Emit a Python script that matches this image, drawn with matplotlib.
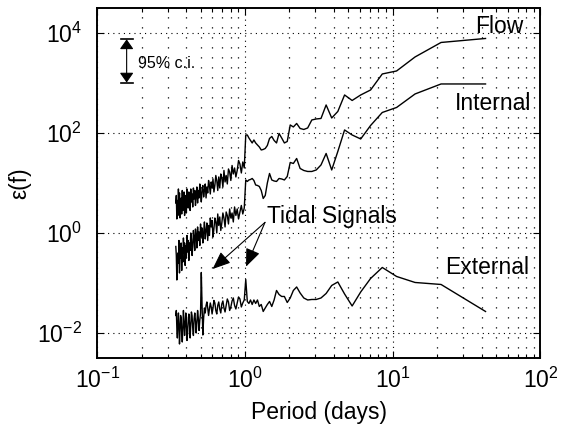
import numpy as np
import matplotlib
matplotlib.use("Agg")
import matplotlib.pyplot as plt
from matplotlib.ticker import FixedLocator, LogLocator, FuncFormatter, NullLocator, NullFormatter

plt.rcParams['font.family'] = ['Liberation Sans', 'DejaVu Sans']
plt.rcParams['mathtext.fontset'] = 'custom'
plt.rcParams['mathtext.rm'] = 'Liberation Sans'
plt.rcParams['mathtext.it'] = 'Liberation Sans:italic'
plt.rcParams['mathtext.bf'] = 'Liberation Sans:bold'
plt.rcParams['lines.scale_dashes'] = False

# ---- data: spectral harmonics of a ~42.5 day record ----
record_days = 42.5
harmonic = np.arange(1, 126)
period = record_days / harmonic

# log10 of epsilon(f) (k = 1 .. 125)
flow_log = [
    3.89, 3.81, 3.52, 3.24, 3.18, 2.86, 2.76, 2.65, 2.76, 2.43,
    2.30, 2.56, 2.29, 2.28, 2.26, 2.10, 2.07, 2.09, 2.19, 2.12,
    2.16, 1.83, 1.80, 1.90, 1.99, 1.80, 1.85, 1.93, 1.89, 1.75,
    1.69, 1.67, 1.66, 1.72, 1.76, 1.80, 1.86, 1.80, 1.85, 1.90,
    1.96, 1.96,
    1.30, 1.42, 1.20, 1.38, 1.45, 1.25, 1.12, 1.30, 1.18, 1.35,
    1.05, 1.22, 1.28, 0.98, 1.15, 1.02, 1.25, 0.92, 1.10, 1.18,
    0.90, 1.12, 0.85, 1.05, 1.15, 0.95, 0.82, 1.08, 0.90, 1.02,
    0.78, 0.95, 1.05, 0.80, 0.92, 0.70, 0.98, 0.85, 0.72, 0.95,
    0.88, 0.62, 0.80, 0.98, 0.70, 0.85, 0.60, 0.92, 0.75, 0.55,
    0.85, 0.68, 0.90, 0.52, 0.78, 0.62, 0.88, 0.45, 0.72, 0.82,
    0.50, 0.68, 0.88, 0.40, 0.75, 0.58, 0.35, 0.82, 0.62, 0.45,
    0.85, 0.38, 0.70, 0.55, 0.30, 0.80, 0.48, 0.88, 0.35, 0.65,
    0.28, 0.75, 0.60,
]
internal_log = [
    2.98, 2.98, 2.78, 2.51, 2.41, 2.15, 1.88, 1.96, 2.06, 1.63,
    1.26, 1.59, 1.36, 1.26, 1.23, 1.23, 1.25, 1.29, 1.49, 1.39,
    1.41, 1.13, 1.06, 1.08, 1.09, 1.03, 1.04, 1.06, 1.19, 1.00,
    0.75, 0.69, 0.85, 0.93, 0.95, 0.96, 1.05, 1.09, 1.07, 1.06,
    1.03, 1.06,
    0.50, 0.38, 0.55, 0.42, 0.28, 0.48, 0.35, 0.52, 0.22, 0.40,
    0.30, 0.48, 0.18, 0.35, 0.42, 0.12, 0.30, 0.40, 0.20, 0.05,
    0.32, 0.15, 0.38, 0.00, 0.22, 0.30, 0.08, -0.08, 0.25, 0.12,
    0.30, -0.05, 0.15, -0.15, 0.20, 0.05, -0.12, 0.22, 0.00, -0.20,
    0.10, -0.08, 0.18, -0.25, 0.02, -0.15, 0.12, -0.30, -0.05, 0.08,
    -0.35, -0.10, 0.05, -0.28, -0.45, -0.12, 0.00, -0.35, -0.20, -0.55,
    -0.15, -0.38, -0.05, -0.50, -0.25, -0.65, -0.20, -0.40, -0.10, -0.58,
    -0.30, -0.75, -0.20, -0.50, -0.35, -0.80, -0.15, -0.60, -0.40, -0.70,
    -0.94, -0.45, -0.27,
]
external_log = [
    -1.57, -1.03, -0.99, -0.87, -0.69, -0.91, -1.18, -1.46, -1.22, -0.98,
    -1.05, -1.21, -1.30, -1.33, -1.33, -1.34, -1.30, -1.20, -1.08, -1.15,
    -1.30, -1.39, -1.27, -1.27, -1.23, -1.15, -1.34, -1.47, -1.37, -1.43,
    -1.50, -1.57, -1.43, -1.47, -1.34, -1.41, -1.34, -1.43, -1.34, -1.41,
    -1.37, -0.93,
    -1.34, -1.40, -1.48, -1.32, -1.28, -1.40, -1.52, -1.45, -1.30, -1.36,
    -1.48, -1.55, -1.38, -1.32, -1.45, -1.58, -1.50, -1.36, -1.42, -1.60,
    -1.52, -1.38, -1.45, -1.62, -1.55, -1.40, -1.35, -1.50, -1.62, -1.48,
    -1.40, -1.52, -1.65, -1.50, -1.38, -1.45, -1.60, -1.50, -1.70, -2.04,
    -1.45, -0.79,
    -1.60, -1.75, -1.95, -1.70, -1.55, -1.80, -2.00, -1.75,
    -1.60, -1.72, -2.05, -1.90, -1.65, -1.58, -1.85, -2.10, -1.80, -1.62,
    -1.75, -2.00, -2.15, -1.80, -1.60, -1.85, -2.05, -1.78, -1.55, -1.90,
    -2.18, -2.00, -1.70, -1.65, -1.95, -2.22, -1.85, -1.60, -1.80, -2.10,
    -1.90, -1.55, -1.65,
]

x_ticks = [0.1, 1, 10, 100]
y_ticks = [1e-2, 1, 1e2, 1e4]

fig = plt.figure(figsize=(5.7, 4.28), dpi=100)
ax = fig.add_axes([0.1707, 0.1636, 0.7774, 0.8178])
ax.set_xscale('log')
ax.set_yscale('log')

for vals in (flow_log, internal_log, external_log):
    ax.plot(period, 10.0 ** np.array(vals), color='k', lw=1.0)

ax.set_xlim(0.1, 100)
ax.set_ylim(10 ** -2.5, 10 ** 4.5)

ax.xaxis.set_major_locator(FixedLocator(x_ticks))
ax.xaxis.set_minor_locator(LogLocator(base=10, subs=np.arange(2, 10)))
ax.xaxis.set_minor_formatter(NullFormatter())
ax.yaxis.set_major_locator(FixedLocator(y_ticks))
ax.yaxis.set_minor_locator(NullLocator())
fmt = FuncFormatter(lambda v, p: r'$\mathregular{10^{%d}}$' % int(round(np.log10(v))))
ax.xaxis.set_major_formatter(fmt)
ax.yaxis.set_major_formatter(fmt)

ax.grid(which='major', axis='both', color='k', lw=0.8, ls=(0, (0.8, 3.0)))
ax.grid(which='minor', axis='x', color='k', lw=0.9, ls=(0, (0.9, 6.3)))

ax.tick_params(which='both', direction='in', top=True, right=True, width=0.8)
ax.tick_params(which='major', length=5, labelsize=16.5)
ax.tick_params(axis='x', which='major', pad=7)
ax.tick_params(axis='y', which='major', pad=11)
ax.tick_params(which='minor', length=3)
for s in ax.spines.values():
    s.set_linewidth(1.4)

ax.set_xlabel('Period (days)', fontsize=16.5, labelpad=6)
ax.set_ylabel('ε(f)', fontsize=16.5, labelpad=4)

# labels
ax.text(0.852, 0.928, 'Flow', transform=ax.transAxes, fontsize=16.5, va='baseline')
ax.text(0.807, 0.709, 'Internal', transform=ax.transAxes, fontsize=16.5, va='baseline')
ax.text(0.784, 0.239, 'External', transform=ax.transAxes, fontsize=16.5, va='baseline')
ax.text(0.0925, 0.828, '95% c.i.', transform=ax.transAxes, fontsize=11.5, va='baseline')
ax.text(0.382, 0.387, 'Tidal Signals', transform=ax.transAxes, fontsize=16.5, va='baseline')

# tidal arrows
tail = (1.366, 1.63)
for tip in [(0.603, 0.19), (1.016, 0.212)]:
    ax.annotate('', xy=tip, xytext=tail,
                arrowprops=dict(arrowstyle='-|>,head_length=1.1,head_width=0.45',
                                color='k', lw=0.8, shrinkA=0, shrinkB=0,
                                mutation_scale=10))

# confidence interval bar
ci_x, ci_lo, ci_hi = 0.158, 1018.0, 7470.0
ax.annotate('', xy=(ci_x, ci_hi), xytext=(ci_x, ci_lo),
            arrowprops=dict(arrowstyle='<|-|>,head_length=0.6,head_width=0.42',
                            color='k', lw=0.8, shrinkA=0, shrinkB=0,
                            mutation_scale=10))
cap = 10 ** (6 / 147.7)
for yy in (ci_lo, ci_hi):
    ax.plot([ci_x / cap, ci_x * cap], [yy, yy], color='k', lw=1.2)

fig.savefig('out.png', dpi=100)
